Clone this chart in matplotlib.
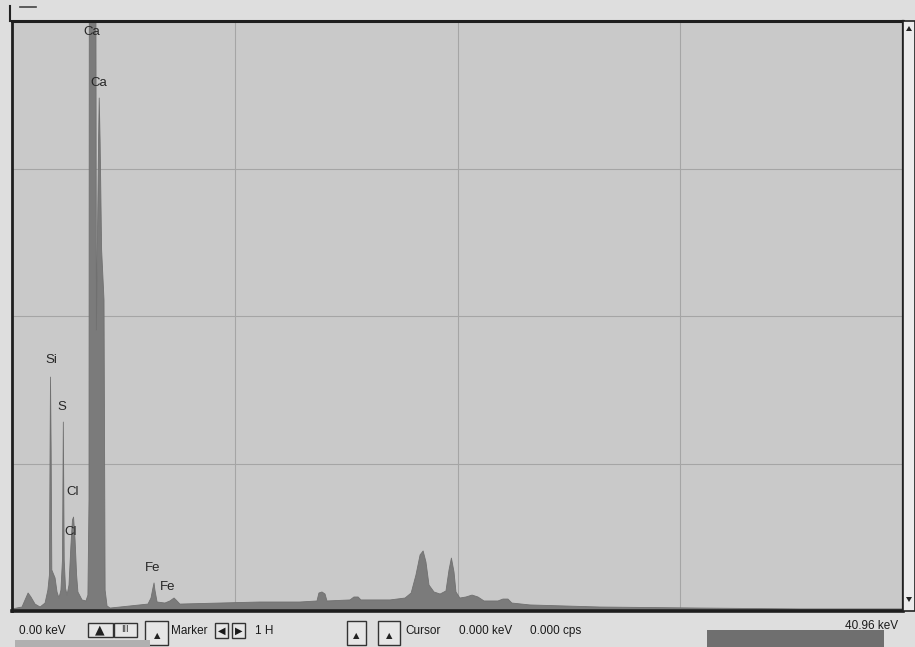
"""
EDS spectrum screenshot recreation (Ca, Si, S, Cl, Fe lines).
"""

import numpy as np
import matplotlib
matplotlib.use('Agg')
import matplotlib.pyplot as plt
from matplotlib.patches import Rectangle, Polygon

# ── Spectrum outline (energy in keV, counts) ─────────────────────────────────
energy_kev = [
    0.00, 0.46, 0.60, 0.74, 0.87, 1.06, 1.29, 1.52, 1.65, 1.72, 1.75, 1.77,
    1.80, 1.83, 1.98, 2.07, 2.16, 2.25, 2.32, 2.36, 2.40, 2.46, 2.53, 2.62,
    2.71, 2.78, 2.83, 2.90, 2.97, 3.03, 3.22, 3.40, 3.49, 3.54, 3.56, 3.70,
    3.84, 3.88, 3.98, 4.01, 4.05, 4.12, 4.23, 4.28, 4.37, 4.51, 5.42, 6.25,
    6.39, 6.48, 6.53, 6.57, 6.67, 7.03, 7.26, 7.45, 7.54, 7.72, 9.56, 11.40,
    13.24, 14.02, 14.11, 14.25, 14.39, 14.48, 15.54, 15.72, 15.91, 16.04,
    17.38, 18.07, 18.35, 18.57, 18.76, 18.90, 19.03, 19.17, 19.40, 19.68,
    19.95, 20.09, 20.20, 20.32, 20.41, 20.59, 20.87, 21.15, 21.42, 21.70,
    22.34, 22.57, 22.80, 22.98, 23.81, 27.03, 31.63, 36.22, 40.96,
]
counts = [
    14, 27, 75, 122, 95, 47, 27, 54, 142, 244, 1090, 1586,
    1090, 278, 224, 129, 88, 142, 346, 1281, 346, 156, 108, 176,
    447, 617, 637, 481, 244, 129, 75, 68, 108, 753, 6000, 6800,
    6000, 1905, 3193, 3478, 3193, 2447, 2109, 142, 34, 20, 34, 47,
    88, 156, 190, 142, 61, 54, 68, 88, 75, 47, 54, 61,
    61, 68, 122, 129, 115, 68, 75, 95, 95, 75,
    75, 88, 122, 244, 380, 407, 332, 176, 129, 115,
    136, 278, 359, 264, 129, 88, 95, 108, 95, 68,
    68, 81, 81, 54, 41, 27, 20, 14, 14,
]

# ── Peak labels ───────────────────────────────────────────────────────────────
label_text = ['Ca', 'Ca', 'Si', 'S', 'Cl', 'Cl', 'Fe', 'Fe']
label_x = [3.67, 4.00, 1.79, 2.30, 2.80, 2.71, 6.48, 7.17]
label_y = [3925, 3580, 1702, 1383, 807, 536, 292, 163]

E_MAX = 40.96
Y_MAX = 4000

W, H = 915, 647
BG_OUT = '#dedede'
BG_PLOT = '#c9c9c9'
FILL = '#7b7b7b'
FONT = ['Liberation Sans Narrow', 'Liberation Sans', 'DejaVu Sans']


def fx(x):
    return x / W


def fy(y):
    return 1 - y / H


def plot_spectrum():
    fig = plt.figure(figsize=(W / 100, H / 100), dpi=100, facecolor=BG_OUT)

    # ── Spectrum panel ──────────────────────────────────────────────────────
    ax = fig.add_axes([fx(12), fy(611), (903 - 12) / W, (611 - 21) / H])
    ax.set_facecolor(BG_PLOT)
    ax.fill_between(energy_kev, 0, counts, color=FILL, lw=0, zorder=2)
    ax.plot(energy_kev, counts, color='#707070', lw=0.6, zorder=2)
    ax.set_xlim(0, E_MAX)
    ax.set_ylim(0, Y_MAX)
    ax.set_xticks(np.arange(1, 4) * E_MAX / 4)
    ax.set_yticks([1000, 2000, 3000])
    ax.grid(True, color='#a5a5a5', lw=0.8, zorder=1)
    ax.tick_params(length=0, labelbottom=False, labelleft=False)
    for s in ax.spines.values():
        s.set_color('#1e1e1e')
    ax.spines['top'].set_linewidth(2.2)
    ax.spines['bottom'].set_linewidth(2.6)
    ax.spines['left'].set_linewidth(2.0)
    ax.spines['right'].set_linewidth(1.6)

    for t, x, y in zip(label_text, label_x, label_y):
        ax.text(x, y, t, ha='center', va='center', fontsize=9.5,
                family=FONT, color='#262626', zorder=3, clip_on=False)

    # ── Window frame bits ───────────────────────────────────────────────────
    fig.add_artist(plt.Line2D([fx(10), fx(10)], [fy(6), fy(21)],
                              color='#222222', lw=1.5))
    fig.add_artist(plt.Line2D([fx(20), fx(36)], [fy(7), fy(7)],
                              color='#444444', lw=1.2))
    # scrollbar on the right
    fig.add_artist(Rectangle((fx(903), fy(611)), (W - 903) / W, (611 - 21) / H,
                             transform=fig.transFigure, fc='#ececec',
                             ec='#222222', lw=1.2))
    fig.add_artist(Polygon([[fx(906), fy(31)], [fx(912), fy(31)], [fx(909), fy(26)]],
                           closed=True, transform=fig.transFigure, fc='#222222'))
    fig.add_artist(Polygon([[fx(906), fy(597)], [fx(912), fy(597)], [fx(909), fy(602)]],
                           closed=True, transform=fig.transFigure, fc='#222222'))

    # ── Bottom toolbar ──────────────────────────────────────────────────────
    ty = fy(631)
    tk = dict(fontsize=8.5, family=FONT, color='#1a1a1a', va='center')
    fig.text(fx(19), ty, '0.00 keV', **tk)
    fig.text(fx(171), ty, 'Marker', **tk)
    fig.text(fx(255), ty, '1 H', **tk)
    fig.text(fx(405), ty, 'Cursor', **tk)
    fig.text(fx(459), ty, '0.000 keV', **tk)
    fig.text(fx(530), ty, '0.000 cps', **tk)
    fig.text(fx(898), fy(626), '40.96 keV', ha='right', fontsize=8.5,
             family=FONT, color='#1a1a1a', va='center')

    # toolbar icon boxes (x0, y0, x1, y1) in screen pixels
    boxes = [(88, 623, 113, 637), (114, 623, 137, 637), (145, 621, 168, 645),
             (215, 623, 228, 638), (232, 623, 245, 638),
             (347, 621, 366, 645), (378, 621, 400, 645)]
    for x0, y0, x1, y1 in boxes:
        fig.add_artist(Rectangle((fx(x0), fy(y1)), (x1 - x0) / W, (y1 - y0) / H,
                                 transform=fig.transFigure, fc='#e6e6e6',
                                 ec='#333333', lw=1.0))
    fig.text(fx(221.5), fy(631), '\u25C0', ha='center', va='center',
             fontsize=7, color='#1a1a1a', family='DejaVu Sans')
    fig.text(fx(238.5), fy(631), '\u25B6', ha='center', va='center',
             fontsize=7, color='#1a1a1a', family='DejaVu Sans')
    fig.text(fx(100), fy(630), '\u25B2', ha='center', va='center',
             fontsize=9, color='#222222', family='DejaVu Sans')
    fig.text(fx(125), fy(630), '\u0406\u0406\u0406', ha='center', va='center',
             fontsize=6, color='#222222', family='DejaVu Sans')
    for cx in (157, 356.5, 389):
        fig.text(fx(cx), fy(636), '\u25B2', ha='center', va='center',
                 fontsize=6, color='#222222', family='DejaVu Sans')

    # grey bars at the bottom edge
    fig.add_artist(Rectangle((fx(707), fy(647)), (884 - 707) / W, (647 - 630) / H,
                             transform=fig.transFigure, fc='#6f6f6f', ec='none'))
    fig.add_artist(Rectangle((fx(15), fy(647)), (150 - 15) / W, (647 - 640) / H,
                             transform=fig.transFigure, fc='#b0b0b0', ec='none'))

    fig.savefig('out.png', dpi=100, facecolor=fig.get_facecolor())


if __name__ == "__main__":
    plot_spectrum()
